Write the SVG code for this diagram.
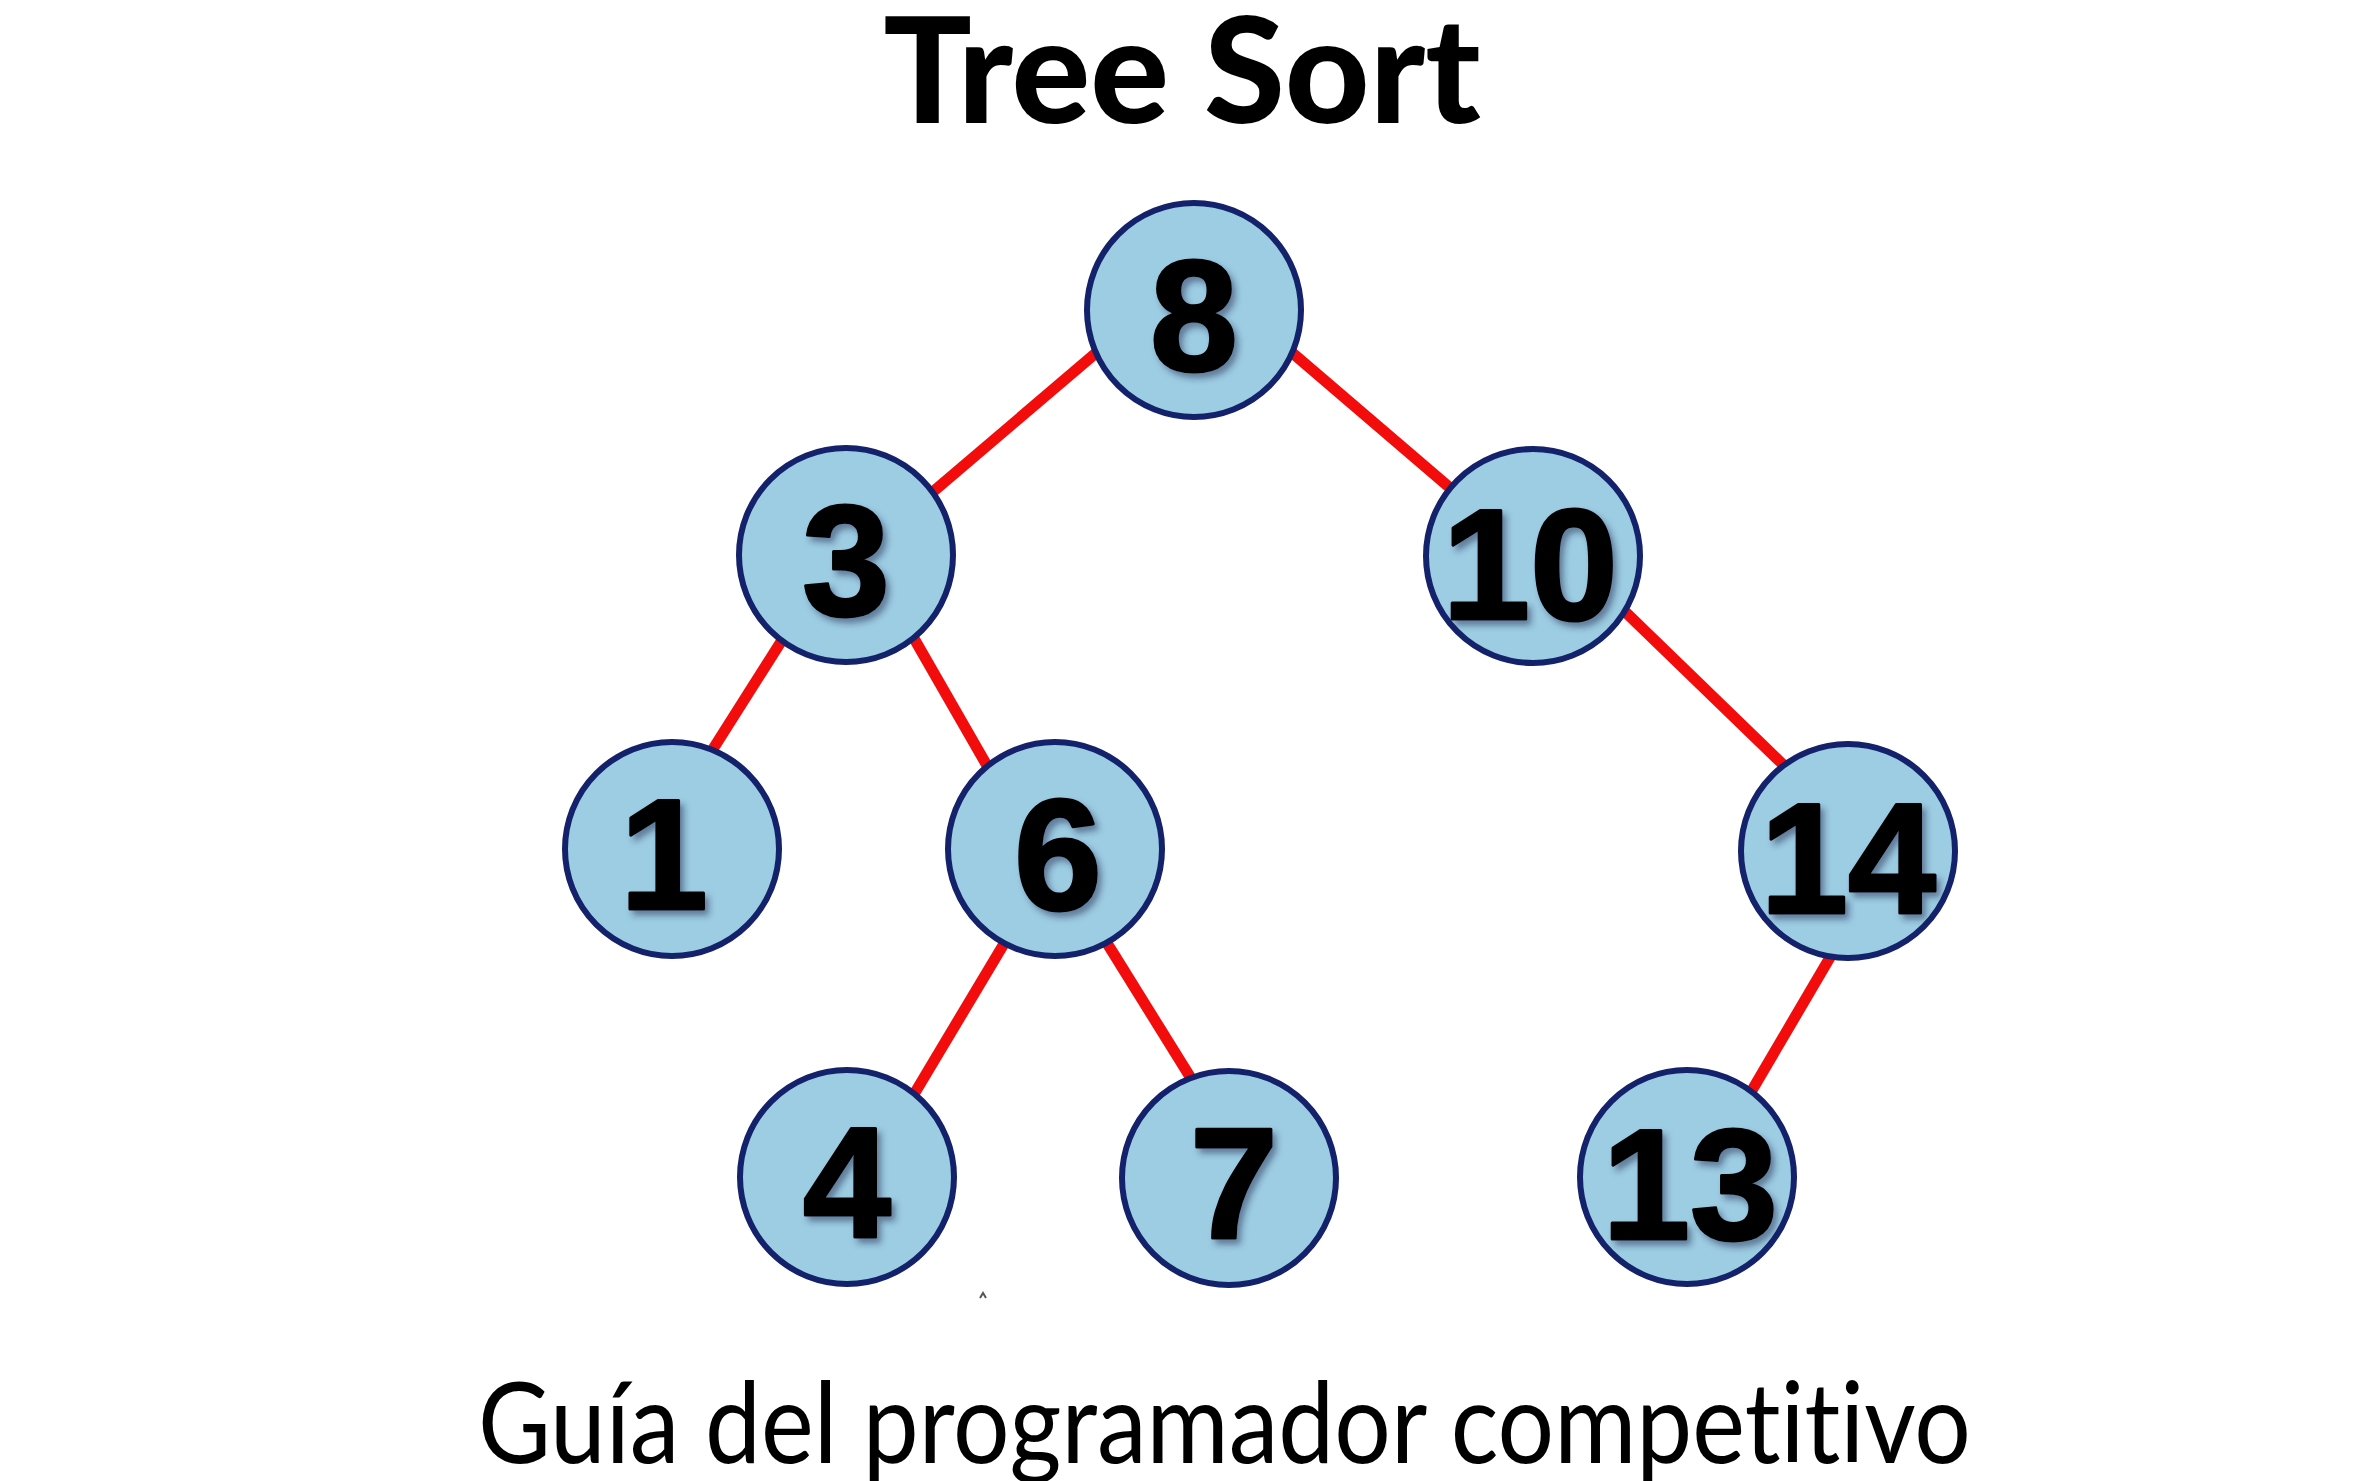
<svg xmlns="http://www.w3.org/2000/svg" width="2356" height="1481" viewBox="0 0 2356 1481">
<defs>
<filter id="sh" x="-30%" y="-30%" width="160%" height="160%">
<feDropShadow dx="4" dy="5" stdDeviation="3" flood-color="#1a2a50" flood-opacity="0.5"/>
</filter>
</defs>
<style>
.title{font-family:Lato,"Liberation Sans",sans-serif;font-weight:900;font-size:147px;fill:#000;text-anchor:middle}
.sub{font-family:Lato,"Liberation Sans",sans-serif;font-weight:400;font-size:112px;fill:#000;font-variant-ligatures:none}
.edge{stroke:#f20c0c;stroke-width:11;stroke-linecap:butt;fill:none}
.node circle{fill:#9dcde3;stroke:#13226a;stroke-width:6}
.node text{font-family:"Liberation Sans",Arial,sans-serif;font-weight:700;font-size:158px;fill:#000;stroke:#000;stroke-width:3;stroke-linejoin:round;text-anchor:middle;filter:url(#sh)}
</style>
<rect width="2356" height="1481" fill="#fff"/>
<text class="title" x="1182" y="123">Tree Sort</text>
<g id="connectors">
<line class="edge" x1="1110" y1="341" x2="914" y2="508"/>
<line class="edge" x1="1275" y1="338" x2="1470" y2="505"/>
<line class="edge" x1="791" y1="626" x2="701" y2="768"/>
<line class="edge" x1="904" y1="621" x2="997" y2="783"/>
<line class="edge" x1="1612" y1="599" x2="1802" y2="783"/>
<line class="edge" x1="1014" y1="927" x2="904" y2="1111"/>
<line class="edge" x1="1097" y1="927" x2="1202" y2="1096"/>
<line class="edge" x1="1842" y1="937" x2="1741" y2="1109"/>
</g>
<g id="node-8" class="node"><circle cx="1194" cy="310" r="107"/><text x="1194" y="370">8</text></g>
<g id="node-3" class="node"><circle cx="846" cy="555" r="107"/><text x="846" y="615">3</text></g>
<g id="node-10" class="node"><circle cx="1533" cy="556" r="107"/><text x="1530" y="619">10</text></g>
<g id="node-1" class="node"><circle cx="672" cy="849" r="107"/><text x="664" y="909">1</text></g>
<g id="node-6" class="node"><circle cx="1055" cy="849" r="107"/><text x="1058" y="909">6</text></g>
<g id="node-14" class="node"><circle cx="1848" cy="851" r="107"/><text x="1848" y="913">14</text></g>
<g id="node-4" class="node"><circle cx="847" cy="1177" r="107"/><text x="847" y="1237">4</text></g>
<g id="node-7" class="node"><circle cx="1229" cy="1178" r="107"/><text x="1234" y="1238">7</text></g>
<g id="node-13" class="node"><circle cx="1687" cy="1177" r="107"/><text x="1690" y="1239">13</text></g>
<path d="M980 1298 L983 1293 L986 1298" stroke="#555" stroke-width="2" fill="none"/>
<text class="sub" x="478" y="1463" textLength="1493" lengthAdjust="spacingAndGlyphs">Guía del programador competitivo</text>
</svg>
